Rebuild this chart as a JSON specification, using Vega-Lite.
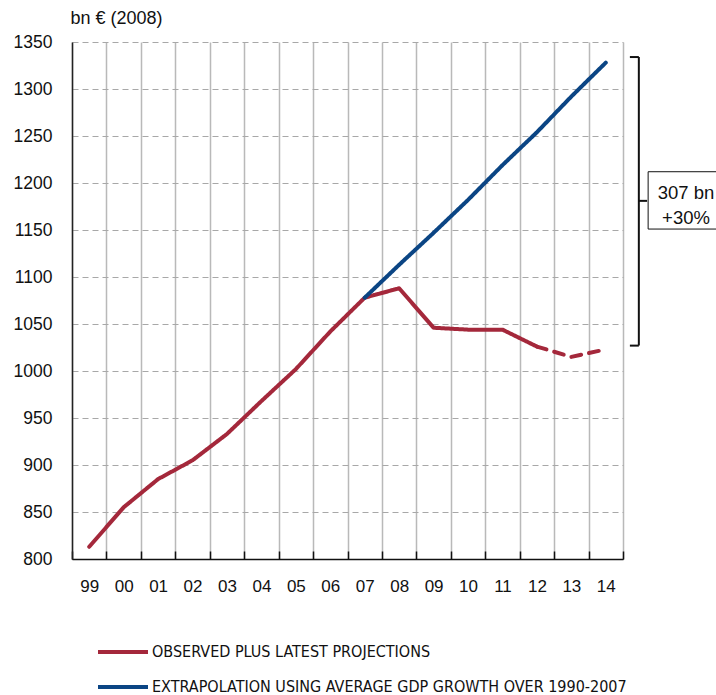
{
  "$schema": "https://vega.github.io/schema/vega-lite/v6.json",
  "width": 551,
  "height": 517,
  "autosize": "none",
  "padding": {"left": 72, "top": 42, "right": 93, "bottom": 136},
  "background": "white",
  "config": {
    "view": {"stroke": null},
    "font": "Liberation Sans",
    "axis": {"labelColor": "#111111", "titleColor": "#111111", "labelFont": "Liberation Sans", "titleFont": "Liberation Sans"}
  },
  "datasets": {
    "gdp": [
      {"year": 1999, "value": 813, "series": "OBSERVED PLUS LATEST PROJECTIONS", "status": "observed"},
      {"year": 2000, "value": 855, "series": "OBSERVED PLUS LATEST PROJECTIONS", "status": "observed"},
      {"year": 2001, "value": 885, "series": "OBSERVED PLUS LATEST PROJECTIONS", "status": "observed"},
      {"year": 2002, "value": 905, "series": "OBSERVED PLUS LATEST PROJECTIONS", "status": "observed"},
      {"year": 2003, "value": 933, "series": "OBSERVED PLUS LATEST PROJECTIONS", "status": "observed"},
      {"year": 2004, "value": 968, "series": "OBSERVED PLUS LATEST PROJECTIONS", "status": "observed"},
      {"year": 2005, "value": 1002, "series": "OBSERVED PLUS LATEST PROJECTIONS", "status": "observed"},
      {"year": 2006, "value": 1042, "series": "OBSERVED PLUS LATEST PROJECTIONS", "status": "observed"},
      {"year": 2007, "value": 1078, "series": "OBSERVED PLUS LATEST PROJECTIONS", "status": "observed"},
      {"year": 2008, "value": 1088, "series": "OBSERVED PLUS LATEST PROJECTIONS", "status": "observed"},
      {"year": 2009, "value": 1046, "series": "OBSERVED PLUS LATEST PROJECTIONS", "status": "observed"},
      {"year": 2010, "value": 1044, "series": "OBSERVED PLUS LATEST PROJECTIONS", "status": "observed"},
      {"year": 2011, "value": 1044, "series": "OBSERVED PLUS LATEST PROJECTIONS", "status": "observed"},
      {"year": 2012, "value": 1026, "series": "OBSERVED PLUS LATEST PROJECTIONS", "status": "observed"},
      {"year": 2012, "value": 1026, "series": "OBSERVED PLUS LATEST PROJECTIONS", "status": "projected"},
      {"year": 2013, "value": 1015, "series": "OBSERVED PLUS LATEST PROJECTIONS", "status": "projected"},
      {"year": 2014, "value": 1023, "series": "OBSERVED PLUS LATEST PROJECTIONS", "status": "projected"},
      {"year": 2007, "value": 1078, "series": "EXTRAPOLATION USING AVERAGE GDP GROWTH OVER 1990-2007", "status": "observed"},
      {"year": 2008, "value": 1113, "series": "EXTRAPOLATION USING AVERAGE GDP GROWTH OVER 1990-2007", "status": "observed"},
      {"year": 2009, "value": 1147, "series": "EXTRAPOLATION USING AVERAGE GDP GROWTH OVER 1990-2007", "status": "observed"},
      {"year": 2010, "value": 1182, "series": "EXTRAPOLATION USING AVERAGE GDP GROWTH OVER 1990-2007", "status": "observed"},
      {"year": 2011, "value": 1219, "series": "EXTRAPOLATION USING AVERAGE GDP GROWTH OVER 1990-2007", "status": "observed"},
      {"year": 2012, "value": 1254, "series": "EXTRAPOLATION USING AVERAGE GDP GROWTH OVER 1990-2007", "status": "observed"},
      {"year": 2013, "value": 1292, "series": "EXTRAPOLATION USING AVERAGE GDP GROWTH OVER 1990-2007", "status": "observed"},
      {"year": 2014, "value": 1328, "series": "EXTRAPOLATION USING AVERAGE GDP GROWTH OVER 1990-2007", "status": "observed"}
    ],
    "gap": [
      {"low": 1027, "high": 1334, "label": "307 bn\n+30%"}
    ]
  },
  "layer": [
    {
      "data": {"name": "gdp"},
      "mark": {"type": "line", "strokeWidth": 4, "strokeCap": "round", "strokeJoin": "round"},
      "encoding": {
        "x": {
          "field": "year",
          "type": "quantitative",
          "scale": {"domain": [1998.5, 2014.5], "nice": false, "zero": false},
          "axis": {
            "title": null,
            "values": [1998.5, 1999, 1999.5, 2000, 2000.5, 2001, 2001.5, 2002, 2002.5, 2003, 2003.5, 2004, 2004.5, 2005, 2005.5, 2006, 2006.5, 2007, 2007.5, 2008, 2008.5, 2009, 2009.5, 2010, 2010.5, 2011, 2011.5, 2012, 2012.5, 2013, 2013.5, 2014, 2014.5],
            "tickCount": 100,
            "labelExpr": "datum.value % 1 === 0 ? slice(toString(datum.value), 2) : ''",
            "grid": true,
            "gridColor": "#b9b9b9",
            "gridWidth": 1.5,
            "gridOpacity": {"condition": {"test": "datum.value % 1 !== 0", "value": 1}, "value": 0},
            "tickOpacity": {"condition": {"test": "datum.value % 1 !== 0", "value": 1}, "value": 0},
            "tickSize": -8,
            "tickColor": "#111111",
            "tickWidth": 1.5,
            "domainColor": "#111111",
            "domainWidth": 1.5,
            "labelFontSize": 17,
            "labelPadding": 27,
            "labelOverlap": false,
            "labelFlush": false,
            "labelBound": false
          }
        },
        "y": {
          "field": "value",
          "type": "quantitative",
          "scale": {"domain": [800, 1350], "nice": false, "zero": false},
          "axis": {
            "values": [800, 850, 900, 950, 1000, 1050, 1100, 1150, 1200, 1250, 1300, 1350],
            "tickCount": 100,
            "format": "d",
            "title": "bn € (2008)",
            "titleAngle": 0,
            "titleAlign": "left",
            "titleBaseline": "middle",
            "titleX": -2,
            "titleY": -24,
            "titleFontSize": 18,
            "titleFontWeight": "normal",
            "grid": true,
            "gridDash": [6, 4],
            "gridColor": "#a8a8a8",
            "gridWidth": 1.2,
            "ticks": false,
            "domainColor": "#222222",
            "domainWidth": 1.5,
            "labelFontSize": 17.5,
            "labelPadding": 20
          }
        },
        "color": {
          "field": "series",
          "type": "nominal",
          "scale": {
            "domain": ["OBSERVED PLUS LATEST PROJECTIONS", "EXTRAPOLATION USING AVERAGE GDP GROWTH OVER 1990-2007"],
            "range": ["#a4283b", "#0b4584"]
          },
          "legend": {
            "title": null,
            "orient": "none",
            "legendX": 24,
            "legendY": 583,
            "direction": "vertical",
            "symbolType": "stroke",
            "symbolSize": 2500,
            "symbolStrokeWidth": 4,
            "rowPadding": -14,
            "labelFont": "DejaVu Sans Condensed",
            "labelFontSize": 16,
            "labelColor": "#111111",
            "labelOffset": 2,
            "labelLimit": 600
          }
        },
        "strokeDash": {
          "field": "status",
          "type": "nominal",
          "scale": {"domain": ["observed", "projected"], "range": [[1, 0], [10, 8]]},
          "legend": null
        }
      }
    },
    {
      "data": {"name": "gap"},
      "mark": {"type": "rule", "color": "#111111", "strokeWidth": 2},
      "encoding": {
        "x": {"datum": 2014.96},
        "y": {"field": "high", "type": "quantitative"},
        "y2": {"field": "low"}
      }
    },
    {
      "data": {"name": "gap"},
      "mark": {"type": "rule", "color": "#111111", "strokeWidth": 2},
      "encoding": {
        "x": {"datum": 2014.7},
        "x2": {"datum": 2014.96},
        "y": {"field": "high", "type": "quantitative"}
      }
    },
    {
      "data": {"name": "gap"},
      "mark": {"type": "rule", "color": "#111111", "strokeWidth": 2},
      "encoding": {
        "x": {"datum": 2014.7},
        "x2": {"datum": 2014.96},
        "y": {"field": "low", "type": "quantitative"}
      }
    },
    {
      "data": {"name": "gap"},
      "mark": {"type": "rule", "color": "#111111", "strokeWidth": 2},
      "encoding": {
        "x": {"datum": 2014.96},
        "x2": {"datum": 2015.2},
        "y": {"datum": 1181}
      }
    },
    {
      "data": {"name": "gap"},
      "mark": {"type": "rule", "color": "#111111", "strokeWidth": 1},
      "encoding": {
        "x": {"datum": 2015.23},
        "y": {"datum": 1212},
        "y2": {"datum": 1151}
      }
    },
    {
      "data": {"name": "gap"},
      "mark": {"type": "rule", "color": "#111111", "strokeWidth": 1},
      "encoding": {
        "x": {"datum": 2015.23},
        "x2": {"datum": 2017.6},
        "y": {"datum": 1212}
      }
    },
    {
      "data": {"name": "gap"},
      "mark": {"type": "rule", "color": "#111111", "strokeWidth": 1},
      "encoding": {
        "x": {"datum": 2015.23},
        "x2": {"datum": 2017.6},
        "y": {"datum": 1151}
      }
    },
    {
      "data": {"name": "gap"},
      "mark": {"type": "text", "align": "center", "baseline": "middle", "fontSize": 18.5, "lineBreak": "\n", "lineHeight": 25, "color": "#111111", "font": "Liberation Sans"},
      "encoding": {
        "x": {"datum": 2016.33},
        "y": {"datum": 1189},
        "text": {"field": "label"}
      }
    }
  ]
}
